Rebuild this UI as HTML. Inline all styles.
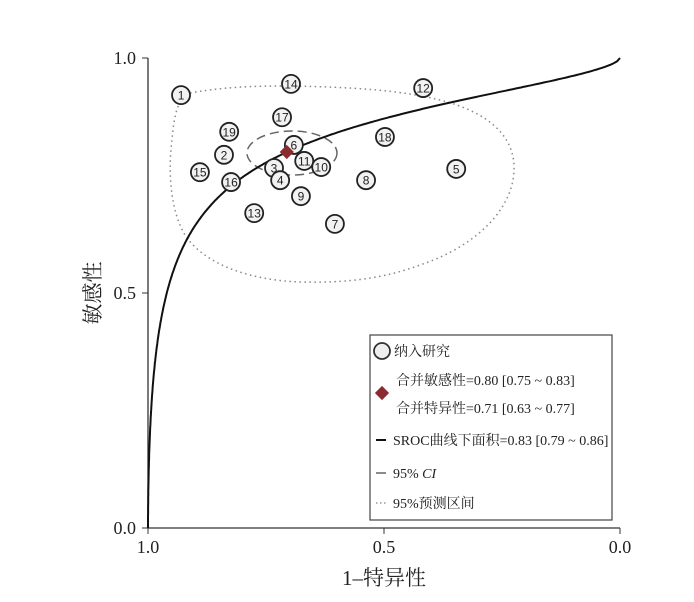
<!DOCTYPE html>
<html><head><meta charset="utf-8"><style>
body{margin:0;background:#fff}
svg text{font-family:"Liberation Serif","Noto Serif CJK SC",serif;fill:#222}
</style></head><body>
<svg width="694" height="597" viewBox="0 0 694 597">
<g id="axes"></g>
<path fill="none" stroke="#888" stroke-width="1.5" stroke-dasharray="1.5,3.5"
 d="M190,93 C230,86 260,86 290,86 C350,87 400,90 440,100 C480,110 512,130 514,165 C516,205 480,245 420,265 C380,280 340,283 300,282 C250,280 205,265 185,235 C170,210 168,170 172,140 C174,115 178,97 190,93 Z"/>
<ellipse cx="292" cy="153" rx="45" ry="22" fill="none" stroke="#666" stroke-width="1.5" stroke-dasharray="9,5"/>
<path id="sroc" fill="none" stroke="#111" stroke-width="2"/>
<g id="pts"></g>
<g>
<rect x="370" y="335" width="242" height="185" fill="#fff" stroke="#444" stroke-width="1.2"/>
<circle cx="382" cy="351" r="8" fill="#eee" stroke="#333" stroke-width="1.8"/>
<text x="394" y="356" font-size="14">纳入研究</text>
<text x="396" y="385" font-size="14">合并敏感性=0.80 [0.75 ~ 0.83]</text>
<rect x="377" y="388" width="10" height="10" fill="#8b2a2f" transform="rotate(45 382 393)"/>
<text x="396" y="413" font-size="14">合并特异性=0.71 [0.63 ~ 0.77]</text>
<line x1="376" y1="440" x2="386" y2="440" stroke="#111" stroke-width="2"/>
<text x="393" y="445" font-size="14">SROC曲线下面积=0.83 [0.79 ~ 0.86]</text>
<line x1="376" y1="473" x2="386" y2="473" stroke="#666" stroke-width="1.5"/>
<text x="393" y="478" font-size="14">95% <tspan font-style="italic">CI</tspan></text>
<line x1="376" y1="503" x2="386" y2="503" stroke="#999" stroke-width="1.5" stroke-dasharray="1.5,2.5"/>
<text x="393" y="508" font-size="14">95%预测区间</text>
</g>
<text x="384" y="585" font-size="21" text-anchor="middle">1–特异性</text>
<text transform="translate(100,293) rotate(-90)" font-size="21" text-anchor="middle">敏感性</text>
</svg>
<script>
const xTicks=[1.0,0.5,0.0];
const yTicks=[0.0,0.5,1.0];
const studyIds=[1,14,12,17,19,18,6,2,11,10,3,5,15,4,16,8,9,13,7];
const specificity=[0.93,0.697,0.417,0.716,0.828,0.498,0.691,0.839,0.669,0.633,0.733,0.347,0.89,0.72,0.824,0.538,0.676,0.775,0.604];
const sensitivity=[0.921,0.945,0.936,0.874,0.843,0.832,0.815,0.794,0.781,0.768,0.766,0.764,0.757,0.74,0.736,0.74,0.706,0.67,0.647];
const pooled=[0.706,0.80];
const srocParams=[1.91,0.6];
const NS='http://www.w3.org/2000/svg';
const X=v=>148+(1-v)*472, Y=s=>528-s*470;
function mk(t,a,p){const e=document.createElementNS(NS,t);for(const k in a)e.setAttribute(k,a[k]);p.appendChild(e);return e;}
const ax=document.getElementById('axes');
let l=mk('line',{x1:148,y1:58,x2:148,y2:528,stroke:'#333','stroke-width':1.3},ax);


l=mk('line',{x1:148,y1:528,x2:620,y2:528,stroke:'#333','stroke-width':1.3},ax);


xTicks.forEach(v=>{mk('line',{x1:X(v),y1:528,x2:X(v),y2:534,stroke:'#333'},ax);
 const t=mk('text',{x:X(v),y:553,'font-size':18,'text-anchor':'middle'},ax);t.textContent=v.toFixed(1);
 
 });
yTicks.forEach(v=>{mk('line',{x1:142,y1:Y(v),x2:148,y2:Y(v),stroke:'#333'},ax);
 const t=mk('text',{x:136,y:Y(v)+6,'font-size':18,'text-anchor':'end'},ax);t.textContent=v.toFixed(1);
 
 });
let d='M148,528';
for(let i=1;i<=400;i++){const f=Math.pow(i/400,2.5);const lg=Math.log(f/(1-f+1e-9));let s=1/(1+Math.exp(-(srocParams[0]+srocParams[1]*lg)));if(i==400)s=1;d+=' L'+X(1-f).toFixed(1)+','+Y(s).toFixed(1);}
document.getElementById('sroc').setAttribute('d',d);
const g=document.getElementById('pts');
studyIds.forEach((id,i)=>{const gg=mk('g',{},g);
 
 
 mk('circle',{cx:X(specificity[i]),cy:Y(sensitivity[i]),r:9,fill:'#f2f2f2',stroke:'#222','stroke-width':1.8},gg);
 const t=mk('text',{x:X(specificity[i]),y:Y(sensitivity[i])+4.5,'font-size':12,'text-anchor':'middle',style:'font-family:"Liberation Sans",sans-serif'},gg);t.textContent=id;});
const dm=mk('rect',{x:X(pooled[0])-5,y:Y(pooled[1])-5,width:10,height:10,fill:'#8b2a2f',transform:`rotate(45 ${X(pooled[0])} ${Y(pooled[1])})`},g);


</script>
</body></html>
